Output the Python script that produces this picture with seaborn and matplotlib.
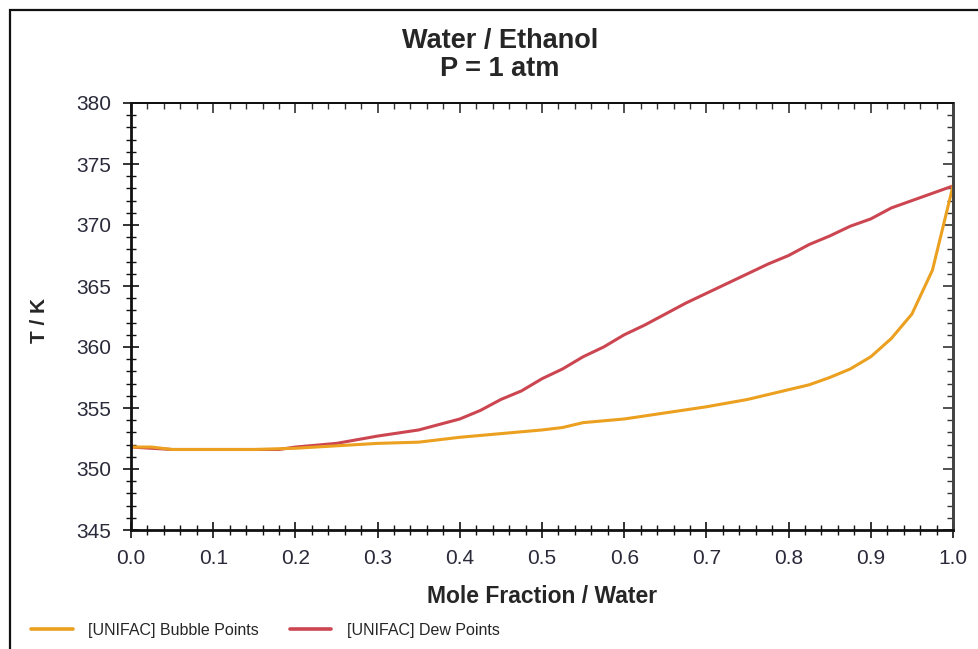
import numpy as np
import pandas as pd
import matplotlib
matplotlib.use("Agg")
import matplotlib.pyplot as plt
from matplotlib.lines import Line2D
from matplotlib.patches import Rectangle
from matplotlib.ticker import MultipleLocator, FormatStrFormatter, NullFormatter
import seaborn as sns

# ---- data ----
bubble_x = [0.0, 0.025, 0.05, 0.1, 0.15, 0.2, 0.25, 0.3, 0.35, 0.4, 0.45, 0.5, 0.525,
            0.55, 0.6, 0.65, 0.7, 0.75, 0.8, 0.825, 0.85, 0.875, 0.9, 0.925, 0.95, 0.975, 1.0]
bubble_T = [351.8, 351.8, 351.6, 351.6, 351.6, 351.7, 351.9, 352.1, 352.2, 352.6, 352.9, 353.2, 353.4,
            353.8, 354.1, 354.6, 355.1, 355.7, 356.5, 356.9, 357.5, 358.2, 359.2, 360.7, 362.7, 366.3, 373.2]

dew_x = [0.0, 0.025, 0.05, 0.1, 0.18, 0.2, 0.25, 0.3, 0.35, 0.4, 0.425, 0.45, 0.475, 0.5, 0.525,
         0.55, 0.575, 0.6, 0.625, 0.65, 0.675, 0.7, 0.725, 0.75, 0.775, 0.8, 0.825, 0.85,
         0.875, 0.9, 0.925, 0.95, 0.975, 1.0]
dew_T = [351.8, 351.7, 351.6, 351.6, 351.6, 351.8, 352.1, 352.7, 353.2, 354.1, 354.8, 355.7, 356.4, 357.4, 358.2,
         359.2, 360.0, 361.0, 361.8, 362.7, 363.6, 364.4, 365.2, 366.0, 366.8, 367.5, 368.4, 369.1,
         369.9, 370.5, 371.4, 372.0, 372.6, 373.2]

series_names = ["[UNIFAC] Bubble Points", "[UNIFAC] Dew Points"]
colors = ["#EBA020", "#CC4651"]

title_lines = ["Water / Ethanol", "P = 1 atm"]
x_label = "Mole Fraction / Water"
y_label = "T / K"

# dew drawn first so bubble sits on top (as in reference)
df = pd.concat([
    pd.DataFrame({"x": dew_x, "T": dew_T, "series": series_names[1]}),
    pd.DataFrame({"x": bubble_x, "T": bubble_T, "series": series_names[0]}),
], ignore_index=True)

sns.set_style("white")
plt.rcParams["font.family"] = ["Liberation Sans", "DejaVu Sans"]

W, H = 979, 649
fig = plt.figure(figsize=(W / 100, H / 100), dpi=100)
ax = fig.add_axes([131 / W, 1 - 530 / H, (953 - 131) / W, (530 - 103) / H])

sns.lineplot(data=df, x="x", y="T", hue="series",
             palette={series_names[0]: colors[0], series_names[1]: colors[1]},
             hue_order=[series_names[1], series_names[0]],
             linewidth=2.2, ax=ax, legend=False, sort=False, estimator=None)

ax.set_xlim(0, 1)
ax.set_ylim(345, 380)
ax.xaxis.set_major_locator(MultipleLocator(0.1))
ax.xaxis.set_minor_locator(MultipleLocator(0.02))
ax.yaxis.set_major_locator(MultipleLocator(5))
ax.yaxis.set_minor_locator(MultipleLocator(1))
ax.xaxis.set_major_formatter(FormatStrFormatter("%.1f"))

ax.tick_params(axis="both", which="major", direction="inout", length=12, width=1.2,
               labelsize=15, labelcolor="#2a2a3a", color="#111111",
               bottom=True, left=True, top=False, right=False)
ax.tick_params(axis="both", which="minor", direction="inout", length=7, width=1.0,
               color="#111111", bottom=True, left=True, top=False, right=False)
ax.tick_params(axis="x", which="major", pad=8)
ax.tick_params(axis="y", which="major", pad=8)

# top / right ticks pointing inward
sx = ax.secondary_xaxis("top")
sx.xaxis.set_major_locator(MultipleLocator(0.1))
sx.xaxis.set_minor_locator(MultipleLocator(0.02))
sx.xaxis.set_major_formatter(NullFormatter())
sx.tick_params(which="major", direction="in", length=7, width=1.2, color="#333333")
sx.tick_params(which="minor", direction="in", length=4, width=1.0, color="#333333")
sx.spines["top"].set_linewidth(1.4)
sx.spines["top"].set_color("#111111")

sy = ax.secondary_yaxis("right")
sy.yaxis.set_major_locator(MultipleLocator(5))
sy.yaxis.set_minor_locator(MultipleLocator(1))
sy.yaxis.set_major_formatter(NullFormatter())
sy.tick_params(which="major", direction="in", length=7, width=1.2, color="#333333")
sy.tick_params(which="minor", direction="in", length=4, width=1.0, color="#333333")
sy.spines["right"].set_linewidth(2.0)
sy.spines["right"].set_color("#444444")

for side in ["left", "bottom", "top", "right"]:
    ax.spines[side].set_visible(True)
    ax.spines[side].set_color("#111111")
ax.spines["left"].set_linewidth(2.0)
ax.spines["bottom"].set_linewidth(2.0)
ax.spines["top"].set_linewidth(1.4)
ax.spines["right"].set_linewidth(2.0)
ax.spines["right"].set_color("#444444")

ax.set_xlabel(x_label, fontsize=16.5, fontweight="bold", labelpad=12)
ax.set_ylabel("")
fig.text(40 / W, 1 - 320 / H, y_label, rotation=90, ha="center", va="center",
         fontsize=15, fontweight="bold")

fig.text(500 / W, 1 - 41 / H, title_lines[0], ha="center", va="center",
         fontsize=19.5, fontweight="bold")
fig.text(500 / W, 1 - 69 / H, title_lines[1], ha="center", va="center",
         fontsize=19.5, fontweight="bold")

handles = [Line2D([0], [0], color=c, lw=2.6) for c in colors]
fig.legend(handles, series_names, loc="center left", bbox_to_anchor=(31 / W, 1 - 630 / H),
           ncol=2, frameon=False, fontsize=11.5, handlelength=2.6, handletextpad=1.0,
           columnspacing=1.9, borderpad=0, borderaxespad=0)

fig.patches.append(Rectangle((10 / W, -0.05), 1.2, 1 - 10 / H + 0.05, transform=fig.transFigure,
                             fill=False, edgecolor="#111111", linewidth=1.6))

fig.savefig("out.png", dpi=100)
